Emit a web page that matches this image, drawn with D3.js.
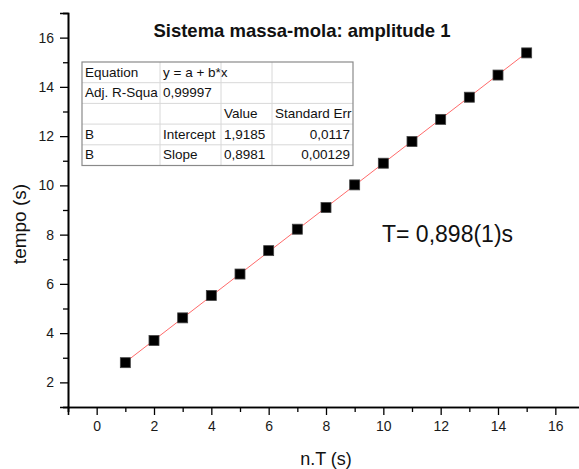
<!DOCTYPE html>
<html>
<head>
<meta charset="utf-8">
<script src="https://cdn.jsdelivr.net/npm/d3@7"></script>
<style>
  body { margin: 0; background: #fff; }
  svg { display: block; font-family: Arial, "Liberation Sans", sans-serif; }
</style>
</head>
<body>
<script>
// measured points: n.T against tempo
var nT = [1, 2, 3, 4, 5, 6, 7, 8, 9, 10, 11, 12, 13, 14, 15];
var tempo = [2.80, 3.70, 4.62, 5.53, 6.40, 7.35, 8.22, 9.10, 10.02, 10.90, 11.78, 12.68, 13.58, 14.48, 15.38];

// linear fit result shown in the table
var fitIntercept = 1.9185;
var fitSlope = 0.8981;

var xMajor = [0, 2, 4, 6, 8, 10, 12, 14, 16];
var xMinor = [-1, 1, 3, 5, 7, 9, 11, 13, 15];
var yMajor = [2, 4, 6, 8, 10, 12, 14, 16];
var yMinor = [1, 3, 5, 7, 9, 11, 13, 15, 17];

var tableRows = [
  ["Equation", "y = a + b*x", "", ""],
  ["Adj. R-Squa", "0,99997", "", ""],
  ["", "", "Value", "Standard Err"],
  ["B", "Intercept", "1,9185", "0,0117"],
  ["B", "Slope", "0,8981", "0,00129"]
];

var title = "Sistema massa-mola: amplitude 1";
var annotation = "T= 0,898(1)s";

var W = 579, H = 469;
var plotLeft = 68, plotTop = 13, plotBottom = 407;

var svg = d3.select("body").append("svg")
  .attr("width", W)
  .attr("height", H);

var x = d3.scaleLinear().domain([-1, 17]).range([plotLeft, plotLeft + 516]);
var y = d3.scaleLinear().domain([1, 17]).range([plotBottom, plotTop]);

var fmt = d3.format("d");

// axes: major + minor ticks
function styleAxis(g) {
  g.select(".domain").attr("stroke", "#000").attr("stroke-width", 1.6);
  g.selectAll(".tick line").attr("stroke", "#000").attr("stroke-width", 1.3);
  g.selectAll(".tick text").attr("fill", "#1a1a1a").style("font-size", "14px")
    .style("font-family", "Arial, 'Liberation Sans', sans-serif");
}

svg.append("g")
  .attr("transform", "translate(0," + plotBottom + ")")
  .call(d3.axisBottom(x).tickValues(xMinor).tickSize(5).tickFormat(""))
  .call(styleAxis);
svg.append("g")
  .attr("transform", "translate(0," + plotBottom + ")")
  .call(d3.axisBottom(x).tickValues(xMajor).tickSize(8).tickPadding(6).tickFormat(fmt))
  .call(styleAxis);

svg.append("g")
  .attr("transform", "translate(" + plotLeft + ",0)")
  .call(d3.axisLeft(y).tickValues(yMinor).tickSize(5).tickFormat(""))
  .call(styleAxis);
svg.append("g")
  .attr("transform", "translate(" + plotLeft + ",0)")
  .call(d3.axisLeft(y).tickValues(yMajor).tickSize(8).tickPadding(6).tickFormat(fmt))
  .call(styleAxis);

// fit line
var line = d3.line()
  .x(function(d) { return x(d); })
  .y(function(d) { return y(fitIntercept + fitSlope * d); });

svg.append("path")
  .datum([nT[0], nT[nT.length - 1]])
  .attr("d", line)
  .attr("fill", "none")
  .attr("stroke", "#ff6a6a")
  .attr("stroke-width", 1);

// points
var sq = 10;
svg.append("g").selectAll("rect")
  .data(nT)
  .join("rect")
  .attr("x", function(d) { return x(d) - sq / 2; })
  .attr("y", function(d, i) { return y(tempo[i]) - sq / 2; })
  .attr("width", sq)
  .attr("height", sq)
  .attr("fill", "#000")
  .attr("stroke", "#444")
  .attr("stroke-width", 0.8);

// title
svg.append("text")
  .attr("x", 302)
  .attr("y", 37)
  .attr("text-anchor", "middle")
  .style("font-size", "18.5px")
  .style("font-weight", "bold")
  .attr("fill", "#111")
  .text(title);

// axis titles
svg.append("text")
  .attr("transform", "translate(26,224) rotate(-90)")
  .attr("text-anchor", "middle")
  .style("font-size", "19px")
  .attr("fill", "#111")
  .text("tempo (s)");

svg.append("text")
  .attr("x", 326)
  .attr("y", 465)
  .attr("text-anchor", "middle")
  .style("font-size", "18px")
  .attr("fill", "#111")
  .text("n.T (s)");

// annotation
svg.append("text")
  .attr("x", 382)
  .attr("y", 242)
  .style("font-size", "23px")
  .attr("fill", "#111")
  .text(annotation);

// fit table
var colX = [82, 160, 221, 272, 353];
var rowH = 20.7, tblTop = 62;
var tbl = svg.append("g");

tbl.append("rect")
  .attr("x", colX[0]).attr("y", tblTop)
  .attr("width", colX[4] - colX[0]).attr("height", rowH * tableRows.length)
  .attr("fill", "#fff");

tableRows.forEach(function(r, i) {
  if (i > 0) {
    tbl.append("line")
      .attr("x1", colX[0]).attr("x2", colX[4])
      .attr("y1", tblTop + i * rowH).attr("y2", tblTop + i * rowH)
      .attr("stroke", "#d8d8d8");
  }
  r.forEach(function(cell, j) {
    if (!cell) return;
    var numeric = j === 3 && i > 2;
    tbl.append("text")
      .attr("x", numeric ? colX[4] - 3 : colX[j] + 3)
      .attr("y", tblTop + i * rowH + 14.5)
      .attr("text-anchor", numeric ? "end" : "start")
      .style("font-size", "13.5px")
      .attr("fill", "#111")
      .text(cell);
  });
});

[1, 2, 3].forEach(function(j) {
  tbl.append("line")
    .attr("x1", colX[j]).attr("x2", colX[j])
    .attr("y1", tblTop).attr("y2", tblTop + rowH * tableRows.length)
    .attr("stroke", "#d8d8d8");
});

tbl.append("rect")
  .attr("x", colX[0]).attr("y", tblTop)
  .attr("width", colX[4] - colX[0]).attr("height", rowH * tableRows.length)
  .attr("fill", "none")
  .attr("stroke", "#8a8a8a")
  .attr("stroke-width", 1.2);
</script>
</body>
</html>
